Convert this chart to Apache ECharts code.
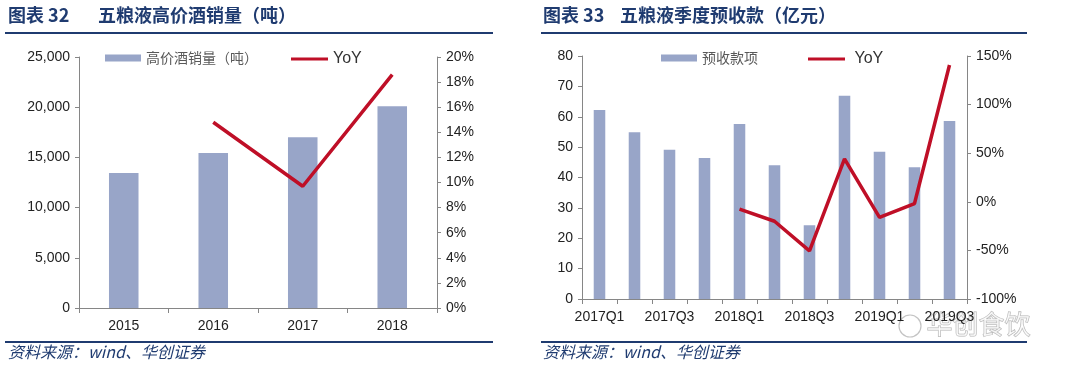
<!DOCTYPE html>
<html>
<head>
<meta charset="utf-8">
<script src="https://cdn.jsdelivr.net/npm/echarts@6/dist/echarts.min.js"></script>
<style>
  html, body { margin: 0; padding: 0; background: #fff; }
  #main { width: 1080px; height: 376px; }
</style>
</head>
<body>
<div id="main"></div>
<script>
// 图表32 高价酒销量
var years = ['2015', '2016', '2017', '2018'];
var salesVol = [13450, 15450, 17000, 20100];
var salesYoy = [null, 14.8, 9.7, 18.6];

// 图表33 季度预收款
var quarters = ['2017Q1', '2017Q2', '2017Q3', '2017Q4', '2018Q1', '2018Q2', '2018Q3', '2018Q4', '2019Q1', '2019Q2', '2019Q3'];
var advance = [62.2, 54.9, 49.1, 46.4, 57.6, 44.0, 24.3, 66.9, 48.5, 43.4, 58.6];
var advanceYoy = [null, null, null, null, -7.6, -20, -50.5, 44.2, -16, -1.8, 140.7];

var barColor = '#98A5C8';
var lineColor = '#BF0F27';
var navy = '#1F3B70';
var axisGray = '#868686';
var labelColor = '#222';
var font = 'Liberation Sans, Arial, sans-serif';

var chartDom = document.getElementById('main');
var myChart = echarts.init(chartDom);

function yAxisBase(pos) {
    return {
        type: 'value',
        position: pos,
        splitLine: { show: false },
        axisLine: { show: true, lineStyle: { color: axisGray } },
        axisTick: { show: true, length: 4, lineStyle: { color: axisGray } },
        axisLabel: { color: labelColor, fontSize: 14, fontFamily: font, margin: 9 }
    };
}

// 범례 한 칸씩 따로 배치
function legendItem(name, left, isLine) {
    return {
        data: [{ name: name, icon: 'rect' }],
        left: left,
        top: 46,
        itemWidth: isLine ? 37 : 36,
        itemHeight: isLine ? 3 : 7,
        textStyle: {
            color: isLine ? '#333' : '#595959',
            fontSize: isLine ? 16 : 14,
            fontFamily: isLine ? font : 'Noto Sans CJK SC, ' + font
        }
    };
}

var option = {
    animation: false,
    backgroundColor: '#fff',
    legend: [
        legendItem('高价酒销量（吨）', 100, false),
        legendItem('YoY', 286, true),
        legendItem('预收款项', 656, false),
        legendItem(' YoY', 803, true)
    ],
    grid: [
        { left: 79, right: 643, top: 57, bottom: 68 },
        { left: 582, right: 113, top: 56, bottom: 77 }
    ],
    xAxis: [
        {
            type: 'category',
            gridIndex: 0,
            data: years,
            axisLine: { lineStyle: { color: axisGray } },
            axisTick: { show: true, length: 5, lineStyle: { color: axisGray } },
            axisLabel: { color: labelColor, fontSize: 14, fontFamily: font, margin: 11 }
        },
        {
            type: 'category',
            gridIndex: 1,
            data: quarters,
            axisLine: { lineStyle: { color: axisGray } },
            axisTick: { show: true, interval: 0, length: 5, lineStyle: { color: axisGray } },
            axisLabel: { color: labelColor, fontSize: 14, fontFamily: font, margin: 11, interval: 1 }
        }
    ],
    yAxis: [
        Object.assign(yAxisBase('left'), {
            gridIndex: 0, min: 0, max: 25000, interval: 5000,
            axisLabel: { color: labelColor, fontSize: 14, fontFamily: font, margin: 9,
                formatter: function (v) { return echarts.format.addCommas(v); } }
        }),
        Object.assign(yAxisBase('right'), {
            gridIndex: 0, min: 0, max: 20, interval: 2,
            axisLabel: { color: labelColor, fontSize: 14, fontFamily: font, margin: 9, formatter: '{value}%' }
        }),
        Object.assign(yAxisBase('left'), {
            gridIndex: 1, min: 0, max: 80, interval: 10
        }),
        Object.assign(yAxisBase('right'), {
            gridIndex: 1, min: -100, max: 150, interval: 50,
            axisLabel: { color: labelColor, fontSize: 14, fontFamily: font, margin: 9, formatter: '{value}%' }
        })
    ],
    series: [
        {
            name: '高价酒销量（吨）',
            type: 'bar',
            xAxisIndex: 0, yAxisIndex: 0,
            data: salesVol,
            barWidth: '33%',
            itemStyle: { color: barColor }
        },
        {
            name: 'YoY',
            type: 'line',
            xAxisIndex: 0, yAxisIndex: 1,
            data: salesYoy,
            symbol: 'none',
            lineStyle: { color: lineColor, width: 3.5 },
            itemStyle: { color: lineColor }
        },
        {
            name: '预收款项',
            type: 'bar',
            xAxisIndex: 1, yAxisIndex: 2,
            data: advance,
            barWidth: '33%',
            itemStyle: { color: barColor }
        },
        {
            name: ' YoY',
            type: 'line',
            xAxisIndex: 1, yAxisIndex: 3,
            data: advanceYoy,
            symbol: 'none',
            lineStyle: { color: lineColor, width: 3.5 },
            itemStyle: { color: lineColor }
        }
    ],
    graphic: [
        // 标题
        { type: 'text', left: 8, top: 6, style: { text: '图表 32', fill: navy, font: 'bold 18px "Noto Sans CJK SC", sans-serif' } },
        { type: 'text', left: 98, top: 6, style: { text: '五粮液高价酒销量（吨）', fill: navy, font: 'bold 18px "Noto Sans CJK SC", sans-serif' } },
        { type: 'text', left: 543, top: 6, style: { text: '图表 33', fill: navy, font: 'bold 18px "Noto Sans CJK SC", sans-serif' } },
        { type: 'text', left: 620, top: 6, style: { text: '五粮液季度预收款（亿元）', fill: navy, font: 'bold 18px "Noto Sans CJK SC", sans-serif' } },
        // 分隔线
        { type: 'line', shape: { x1: 5, y1: 33, x2: 493, y2: 33 }, style: { stroke: navy, lineWidth: 2 } },
        { type: 'line', shape: { x1: 541, y1: 33, x2: 1027, y2: 33 }, style: { stroke: navy, lineWidth: 2 } },
        { type: 'line', shape: { x1: 5, y1: 342, x2: 493, y2: 342 }, style: { stroke: navy, lineWidth: 2 } },
        { type: 'line', shape: { x1: 541, y1: 342, x2: 1027, y2: 342 }, style: { stroke: navy, lineWidth: 2 } },
        // 资料来源
        { type: 'text', left: 8, top: 344, style: { text: '资料来源：wind、华创证券', fill: navy, font: 'italic 16px "Noto Sans CJK SC", serif' } },
        { type: 'text', left: 543, top: 344, style: { text: '资料来源：wind、华创证券', fill: navy, font: 'italic 16px "Noto Sans CJK SC", serif' } },
        // 水印
        { type: 'circle', shape: { cx: 910, cy: 326, r: 11 }, style: { fill: 'rgba(255,255,255,0.6)', stroke: 'rgba(170,170,170,0.7)', lineWidth: 1.2 } },
        { type: 'text', left: 926, top: 311, style: { text: '华创食饮', fill: 'rgba(255,255,255,0.6)', stroke: 'rgba(160,160,160,0.8)', lineWidth: 1, font: '26px "Noto Sans CJK SC", sans-serif' } }
    ]
};

option && myChart.setOption(option);
new ResizeObserver(() => myChart.resize()).observe(chartDom);
</script>
</body>
</html>
